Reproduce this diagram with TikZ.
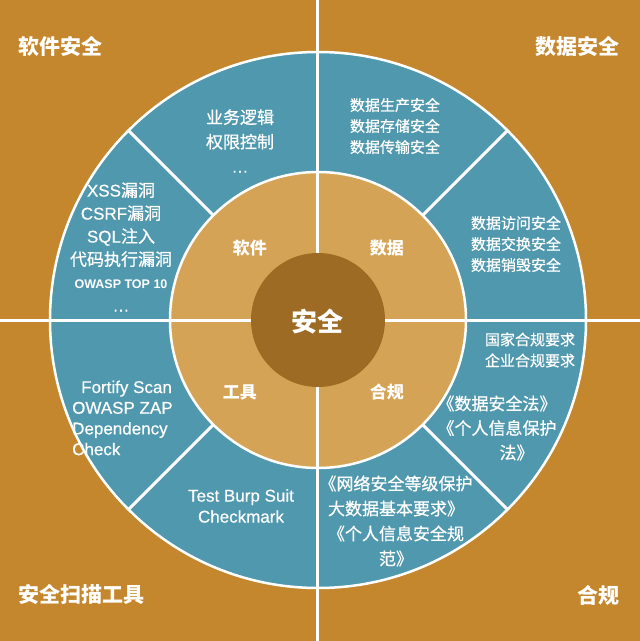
\documentclass[tikz,border=0pt]{standalone}
\usepackage{fontspec}
\usepackage{xcolor}
\setmainfont{Noto Sans CJK SC}
\newfontfamily\medfont{Noto Sans CJK SC}[FakeBold=0.7]
\newfontfamily\latinfont{Liberation Sans}[FakeBold=0.5]
\newfontfamily\latinbold{Liberation Sans Bold}
\definecolor{secbg}{HTML}{C4872D}
\definecolor{ringteal}{HTML}{5098AD}
\definecolor{ringtan}{HTML}{D5A356}
\definecolor{hubbrown}{HTML}{9E6B24}

\begin{document}
\begin{tikzpicture}[
  x=1pt,y=1pt,
  every node/.style={text=white,inner sep=0pt},
  qtitle/.style={font=\fontsize{21}{25}\selectfont\bfseries},
  ringlbl/.style={font=\fontsize{17}{20}\selectfont\bfseries},
  hublbl/.style={font=\fontsize{26}{30}\selectfont\bfseries},
  itemlist/.style={align=center,font=\fontsize{17}{23}\selectfont\medfont},
  itemsmall/.style={align=center,font=\fontsize{15}{21}\selectfont\medfont},
  divider/.style={draw=white,line width=3pt}
]
\useasboundingbox (-318,-321) rectangle (322,320);
\fill[secbg] (-318,-321) rectangle (322,320);
\coordinate (o) at (0,0);

\filldraw[fill=ringteal,draw=white,line width=2.5pt] (o) circle[radius=268pt];
\filldraw[fill=ringtan,draw=white,line width=2.5pt] (o) circle[radius=148pt];
\draw[divider] (-318,0) -- (322,0);
\draw[divider] (0,320) -- (0,-321);
\foreach \a in {45,135,225,315}
  \draw[divider] (\a:148pt) -- (\a:268pt);
\fill[hubbrown] (o) circle[radius=67pt];

\node[qtitle,anchor=west] (tsoft) at (-300,273) {软件安全};
\node[qtitle,anchor=east] (tdata) at (302,273) {数据安全};
\node[qtitle,anchor=west] (tscan) at (-300,-275) {安全扫描工具};
\node[qtitle,anchor=east] (tcomp) at (302,-275) {合规};

\node[hublbl] (hub) at (0,-2) {安全};
\node[ringlbl] (lsoft) at (-68,72) {软件};
\node[ringlbl] (ldata) at (69,72) {数据};
\node[ringlbl] (ltool) at (-78,-72) {工具};
\node[ringlbl] (lcomp) at (69,-72) {合规};

\node[itemlist,font=\fontsize{17}{24.5}\selectfont\medfont] (logic) at (-78,179) {业务逻辑\\权限控制\\{\latinfont\ldots}};
\node[itemlist] (vuln) at (-197,73) {{\latinfont XSS}漏洞\\{\latinfont CSRF}漏洞\\{\latinfont SQL}注入\\代码执行漏洞\\{\latinbold\fontsize{12.5}{21}\selectfont OWASP TOP 10}\\{\latinfont\ldots}};
\node[itemsmall] (dprod) at (77,194) {数据生产安全\\数据存储安全\\数据传输安全};
\node[itemsmall] (dacc) at (198,76) {数据访问安全\\数据交换安全\\数据销毁安全};
\node[itemsmall] (rule) at (212,-30) {国家合规要求\\企业合规要求};
\node[itemlist,font=\fontsize{17}{24.5}\selectfont\medfont] (law) at (179,-108) {《数据安全法》\\《个人信息保护\\\hspace*{2.3em}法》};
\node[itemlist,align=left,font=\fontsize{17}{20.7}\selectfont\latinfont,anchor=west] (scan) at (-246,-98) {\hspace*{9pt}Fortify Scan\\OWASP ZAP\\Dependency\\Check};
\node[itemlist,font=\fontsize{17}{21}\selectfont\latinfont] (burp) at (-77,-186) {Test Burp Suit\\Checkmark};
\node[itemlist,font=\fontsize{17}{25}\selectfont\medfont] (std) at (78,-201) {《网络安全等级保护\\大数据基本要求》\\《个人信息安全规\\范》};
\end{tikzpicture}
\end{document}
